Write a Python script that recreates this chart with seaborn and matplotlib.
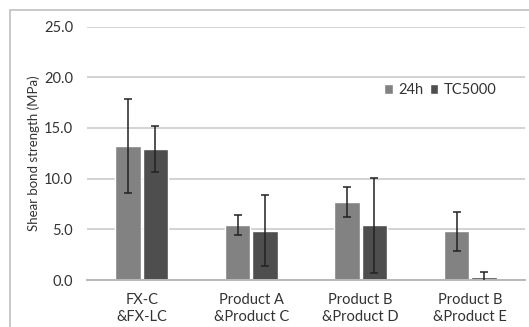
import numpy as np
import pandas as pd
import seaborn as sns
import matplotlib.pyplot as plt
from matplotlib.patches import Rectangle

# values
groups = ["FX-C\n&FX-LC", "Product A\n&Product C", "Product B\n&Product D", "Product B\n&Product E"]
series = ["24h", "TC5000"]
mean_24h = [13.2, 5.4, 7.7, 4.8]
sd_24h = [4.65, 1.0, 1.5, 1.95]
mean_tc = [12.95, 4.85, 5.4, 0.3]
sd_tc = [2.25, 3.5, 4.7, 0.5]
yticks = [0, 5, 10, 15, 20, 25]

df = pd.DataFrame({
    "group": groups * 2,
    "series": [series[0]] * 4 + [series[1]] * 4,
    "mean": mean_24h + mean_tc,
    "sd": sd_24h + sd_tc,
})

sns.set_style("white")
plt.rcParams["font.family"] = ["Lato", "DejaVu Sans"]

fig = plt.figure(figsize=(5.29, 3.27), dpi=100)
ax = fig.add_axes([87 / 529, 1 - 280 / 327, 438 / 529, (280 - 26.5) / 327])

palette = {"24h": "#828282", "TC5000": "#4e4e4e"}
sns.barplot(data=df, x="group", y="mean", hue="series", palette=palette,
            width=0.5, gap=0.08, errorbar=None, ax=ax, zorder=2)

# error bars at the centres of the drawn bars
for cont, name in zip(ax.containers, series):
    sub = df[df["series"] == name]
    xs = [p.get_x() + p.get_width() / 2 for p in cont.patches]
    ax.errorbar(xs, sub["mean"], yerr=sub["sd"], fmt="none", ecolor="#222222",
                elinewidth=1.1, capsize=3, capthick=1.1, zorder=3)

ax.set_xlim(-0.5, len(groups) - 0.5)
ax.set_ylim(0, 25)
ax.set_yticks(yticks)
ax.set_yticklabels([f"{v:.1f}" for v in yticks])
ax.yaxis.grid(True, color="#c8c8c8", linewidth=1.1, zorder=0)
ax.set_axisbelow(True)
for s in ["top", "right", "left"]:
    ax.spines[s].set_visible(False)
ax.spines["bottom"].set_color("#b8b8b8")
ax.spines["bottom"].set_linewidth(1.4)
ax.tick_params(axis="both", length=0, labelsize=10.5, colors="#333333")
ax.tick_params(axis="x", pad=9)
ax.tick_params(axis="y", pad=10)
for lab in ax.get_xticklabels():
    lab.set_linespacing(1.35)
ax.set_xlabel("")
ax.set_ylabel("Shear bond strength (MPa)", fontsize=9.5, color="#333333", labelpad=3)

leg = ax.legend(loc="upper left", bbox_to_anchor=(0.665, 0.80), ncol=2, frameon=False,
                fontsize=10.5, handlelength=0.6, handleheight=0.6, handletextpad=0.4,
                columnspacing=0.4, borderaxespad=0)
for t in leg.get_texts():
    t.set_color("#333333")

# outer chart frame
fig.patches.append(Rectangle((10 / 529, -0.1), 1.2, 1.1 - 10 / 327, transform=fig.transFigure,
                             fill=False, edgecolor="#c0c0c0", linewidth=1.2, zorder=0))

fig.savefig("out.png", dpi=100)
